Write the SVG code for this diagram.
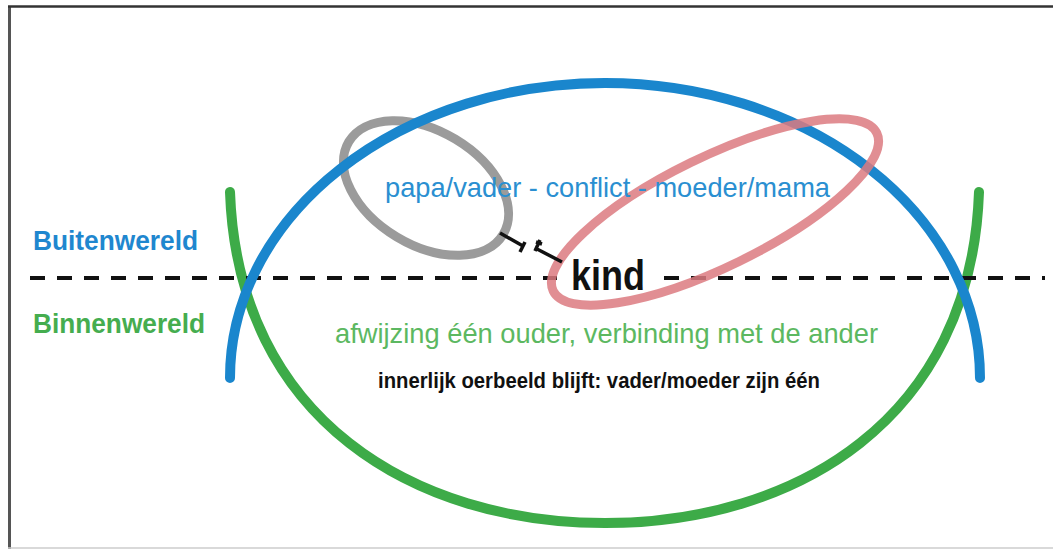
<svg xmlns="http://www.w3.org/2000/svg" width="1053" height="549" viewBox="0 0 1053 549">
<style>
.arc{fill:none;stroke-linecap:round;stroke-width:10}
.t{font-family:"Liberation Sans",Arial,sans-serif}
.b{font-weight:bold}
</style>
<rect width="1053" height="549" fill="#fff"/>
<g id="frame">
<line x1="9.5" y1="6" x2="9.5" y2="549" stroke="#555" stroke-width="3"/>
<line x1="8" y1="6.5" x2="1053" y2="6.5" stroke="#333" stroke-width="2.5"/>
<line x1="8" y1="548" x2="1053" y2="548" stroke="#ccc" stroke-width="1.5"/>
</g>
<g id="binnenwereld-arc">
<path class="arc" stroke="#3dab48" d="M230,192 C238,420 415,523 605,523 C795,523 971,420 979,192"/>
</g>
<g id="vader">
<ellipse cx="426" cy="188" rx="90" ry="57" transform="rotate(31 426 188)" fill="none" stroke="#9b9b9b" stroke-width="9"/>
</g>
<g id="divider">
<line x1="30" y1="278" x2="557" y2="278" stroke="#111" stroke-width="4" stroke-dasharray="15 12"/>
<line x1="664" y1="278" x2="1045" y2="278" stroke="#111" stroke-width="4" stroke-dasharray="15 12"/>
</g>
<g id="buitenwereld-arc">
<path class="arc" stroke="#1a86cd" d="M230,378 A375,295 0 1 1 980,378"/>
</g>
<g id="moeder">
<ellipse cx="715" cy="212" rx="180" ry="55" transform="rotate(-26 715 212)" fill="none" stroke="#dc7a80" stroke-opacity="0.85" stroke-width="9"/>
</g>
<g id="connectors" stroke="#111" stroke-width="3.5" fill="none" stroke-linecap="butt">
<path d="M500,233 L523,246 M525,242 L520,252"/>
<path d="M537,249 L562,262 M540,240 L535,251 M536,242 L542,244"/>
</g>
<g id="labels">
<text class="t" x="385" y="197" font-size="28" fill="#2a8fd1" textLength="445" lengthAdjust="spacingAndGlyphs">papa/vader - conflict - moeder/mama</text>
<text class="t b" x="33" y="250" font-size="27" fill="#1f87cf" textLength="165" lengthAdjust="spacingAndGlyphs">Buitenwereld</text>
<text class="t b" x="33" y="333" font-size="27" fill="#45ad4f" textLength="172" lengthAdjust="spacingAndGlyphs">Binnenwereld</text>
<text class="t" x="335" y="343" font-size="28" fill="#5cb861" textLength="543" lengthAdjust="spacingAndGlyphs">afwijzing één ouder, verbinding met de ander</text>
<text class="t b" x="378" y="388" font-size="22" fill="#111" textLength="442" lengthAdjust="spacingAndGlyphs">innerlijk oerbeeld blijft: vader/moeder zijn één</text>
</g>
<g id="kind">
<text class="t b" x="571" y="290" font-size="42" fill="#111" textLength="74" lengthAdjust="spacingAndGlyphs">kind</text>
</g>
</svg>
